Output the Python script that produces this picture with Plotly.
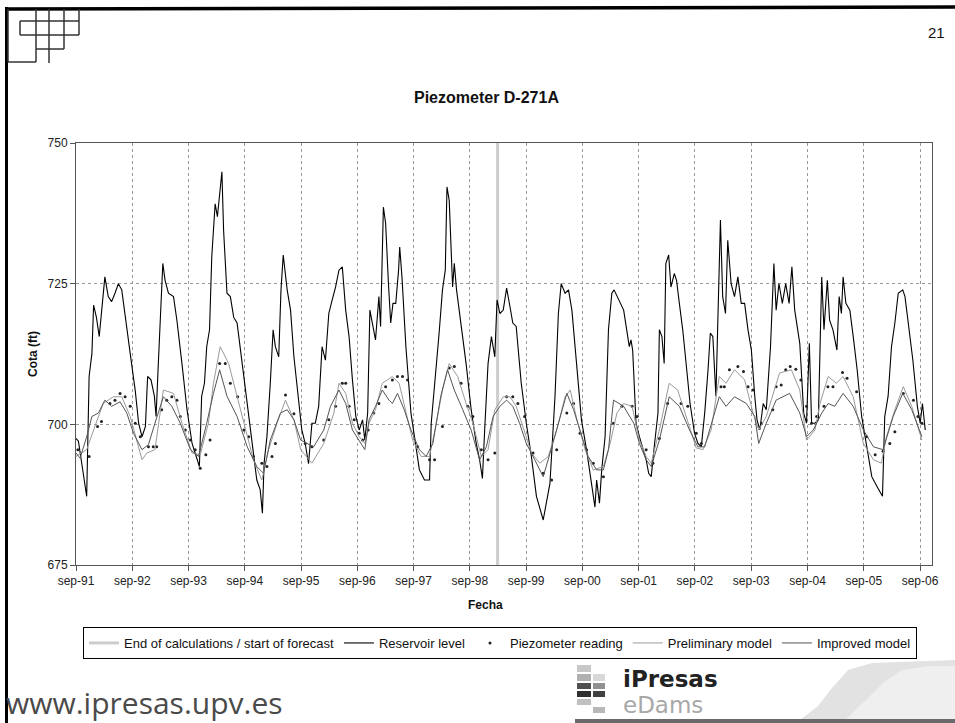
import plotly.graph_objects as go

# ---------------- data (decimal years) ----------------
res_t = [1991.667, 1991.71, 1991.77, 1991.857, 1991.90, 1991.95, 1991.98, 1992.03, 1992.08, 1992.12,
         1992.18, 1992.24, 1992.30, 1992.36, 1992.42, 1992.48, 1992.54, 1992.63, 1992.72, 1992.78,
         1992.84, 1992.90, 1992.94, 1993.00, 1993.06, 1993.09, 1993.13, 1993.16, 1993.21, 1993.25,
         1993.31, 1993.40, 1993.46, 1993.55, 1993.64, 1993.73, 1993.81, 1993.86, 1993.90, 1993.95,
         1993.99, 1994.04, 1994.08, 1994.11, 1994.14, 1994.18, 1994.22, 1994.26, 1994.29, 1994.35,
         1994.41, 1994.47, 1994.53, 1994.62, 1994.71, 1994.79, 1994.88, 1994.94, 1994.98, 1995.01,
         1995.06, 1995.12, 1995.17, 1995.21, 1995.27, 1995.31, 1995.35, 1995.42, 1995.48, 1995.54,
         1995.62, 1995.68, 1995.74, 1995.80, 1995.86, 1995.92, 1995.98, 1996.04, 1996.10, 1996.16,
         1996.22, 1996.28, 1996.34, 1996.40,
         1996.46, 1996.52, 1996.58, 1996.64, 1996.70, 1996.76, 1996.80, 1996.85, 1996.89, 1996.935,
         1996.99, 1997.05, 1997.08, 1997.13, 1997.17, 1997.22, 1997.26, 1997.30, 1997.35, 1997.40,
         1997.42, 1997.46, 1997.53, 1997.62, 1997.71, 1997.77, 1997.86, 1997.95, 1997.98, 1998.07,
         1998.12, 1998.18, 1998.23, 1998.26, 1998.30, 1998.36, 1998.39, 1998.43, 1998.51, 1998.60,
         1998.69, 1998.78, 1998.84, 1998.89, 1998.93, 1998.99, 1999.05, 1999.11, 1999.15, 1999.20,
         1999.26, 1999.32, 1999.38, 1999.43, 1999.49, 1999.58, 1999.67, 1999.76, 1999.85, 1999.97,
         2000.09, 2000.18, 2000.24, 2000.29, 2000.36, 2000.42, 2000.48, 2000.57, 2000.65, 2000.74,
         2000.83, 2000.89, 2000.92, 2000.97, 2001.01, 2001.07, 2001.13, 2001.19, 2001.23, 2001.31,
         2001.40,
         2001.50, 2001.53, 2001.56, 2001.62, 2001.68, 2001.74, 2001.80, 2001.845, 2001.89, 2001.95,
         2002.01, 2002.035, 2002.08, 2002.12, 2002.15, 2002.20, 2002.24, 2002.30, 2002.34, 2002.39,
         2002.45, 2002.51, 2002.58, 2002.66, 2002.72, 2002.78, 2002.84, 2002.90, 2002.94, 2002.985,
         2003.04, 2003.07, 2003.12, 2003.16, 2003.21, 2003.25, 2003.31, 2003.37, 2003.43, 2003.49,
         2003.55, 2003.61, 2003.67, 2003.73, 2003.77, 2003.82, 2003.88, 2003.935, 2004.01, 2004.07,
         2004.11, 2004.16, 2004.22, 2004.28, 2004.34, 2004.39, 2004.44, 2004.53, 2004.60, 2004.65,
         2004.70, 2004.74, 2004.80, 2004.86, 2004.92, 2004.96, 2005.02, 2005.06, 2005.12, 2005.19,
         2005.23, 2005.27, 2005.30, 2005.35, 2005.42, 2005.48, 2005.55, 2005.63, 2005.72, 2005.81,
         2005.90, 2005.95, 2006.00, 2006.04, 2006.10, 2006.16, 2006.22, 2006.28, 2006.36, 2006.40,
         2006.46, 2006.54, 2006.62, 2006.67, 2006.71, 2006.76]
res_v = [697.5, 697.0, 693.0, 687.2, 708.5, 712.6, 721.2, 719.0, 715.6, 720.3,
         726.2, 722.7, 721.8, 723.3, 725.0, 723.9, 719.0, 712.6, 706.0, 700.2,
         697.8, 699.6, 708.5, 707.9, 705.0, 701.4, 710.8, 718.0, 728.6, 725.6,
         723.3, 722.7, 718.5, 710.8, 702.6, 696.6, 694.3, 692.5, 705.0, 707.3,
         713.8, 716.8, 729.8, 735.0, 739.2, 736.9, 740.4, 744.9, 734.5, 723.3,
         722.7, 719.0, 718.0, 710.8, 703.7, 697.8, 690.1, 688.4, 684.2, 693.1,
         697.8, 707.3, 716.8, 713.8, 712.0, 723.9, 730.1, 723.9, 720.3, 712.0,
         704.3, 699.0, 696.6, 693.0, 700.2, 700.2, 703.2, 713.8, 711.4, 719.7,
         722.1, 724.4, 727.4, 728.0,
         720.3, 715.6, 707.9, 701.4, 699.0, 700.8, 697.2, 702.0, 720.3, 718.0,
         715.0, 722.7, 717.4, 738.6, 735.7, 725.0, 718.0, 721.5, 721.5, 727.4,
         731.5, 726.2, 713.8, 702.0, 696.0, 691.9, 690.1, 690.1, 700.2, 709.7,
         716.2, 723.9, 727.4, 742.2, 739.8, 724.4, 728.6, 723.9, 718.0, 710.8,
         702.6, 696.6, 693.7, 690.4, 699.0, 710.8, 715.6, 712.0, 722.1, 719.7,
         720.3, 724.2, 720.9, 718.0, 717.4, 707.3, 700.2, 694.3, 687.2, 683.0,
         689.5, 705.0, 719.7, 725.0, 723.3, 723.9, 720.3, 709.7, 700.8, 695.5,
         689.5, 685.3, 690.1, 686.0, 691.9, 697.8, 716.8, 723.3, 723.9, 722.1,
         720.3,
         713.8, 715.0, 713.2, 700.2, 697.8, 695.5, 693.7, 691.3, 690.7, 696.6,
         702.0, 716.8, 715.6, 710.8, 728.6, 730.1, 724.4, 726.8, 725.6, 721.5,
         716.8, 710.8, 703.7, 698.4, 696.6, 696.0, 702.0, 709.7, 716.2, 715.6,
         705.0, 716.8, 736.3, 722.7, 719.7, 732.7, 725.0, 722.7, 726.2, 721.5,
         721.5, 716.8, 713.2, 705.0, 700.8, 699.0, 703.7, 702.6, 713.8, 728.6,
         720.3, 725.0, 721.5, 725.0, 721.5, 728.0, 720.3, 714.4, 702.0, 700.2,
         714.4, 700.2, 700.2, 700.8, 726.2, 716.8, 725.6, 718.5, 716.8, 713.2,
         722.7, 719.7, 726.2, 721.5, 720.3, 715.6, 709.7, 701.4, 696.0, 690.7,
         689.0, 688.1, 687.2, 701.4, 705.0, 713.8, 718.0, 723.3, 723.9, 722.7,
         718.0, 711.4, 703.2, 700.2, 703.7, 699.0]

obs_t = [1991.70, 1991.90, 1992.05, 1992.12, 1992.27, 1992.36, 1992.45, 1992.54, 1992.63, 1992.72,
         1992.81, 1992.955, 1993.04, 1993.10, 1993.19, 1993.28, 1993.37, 1993.46, 1993.52, 1993.61,
         1993.70, 1993.785, 1993.875, 1993.975, 1994.05, 1994.22, 1994.32, 1994.41, 1994.54, 1994.65,
         1994.735, 1994.82, 1994.97, 1995.06, 1995.15, 1995.21, 1995.39, 1995.54, 1995.74, 1995.86,
         1996.07, 1996.16, 1996.28, 1996.40,
         1996.46, 1996.52, 1996.61, 1996.70, 1996.76, 1996.86, 1996.96, 1997.05, 1997.17, 1997.29,
         1997.38, 1997.47, 1997.56, 1997.74, 1997.95, 1998.04, 1998.18, 1998.30, 1998.39, 1998.51,
         1998.63, 1998.72, 1998.87, 1998.99, 1999.11, 1999.32, 1999.43, 1999.52, 1999.64, 1999.79,
         1999.97, 2000.12, 2000.21, 2000.39, 2000.51, 2000.625, 2000.74, 2000.86, 2001.04, 2001.22,
         2001.37, 2001.55, 2001.64,
         2001.80, 2001.92, 2002.035, 2002.18, 2002.42, 2002.54, 2002.69, 2002.78, 2003.13, 2003.19,
         2003.28, 2003.43, 2003.53, 2003.61, 2003.70, 2003.85, 2004.05, 2004.11, 2004.20, 2004.28,
         2004.36, 2004.46, 2004.55, 2004.65, 2004.74, 2004.83, 2004.96, 2005.03, 2005.12, 2005.29,
         2005.37, 2005.54, 2005.72, 2005.87, 2006.01, 2006.13, 2006.22, 2006.37, 2006.55, 2006.63,
         2006.70]
obs_v = [695.5, 694.3, 699.6, 700.5, 703.7, 704.3, 705.5, 704.9, 703.2, 700.2,
         697.8, 696.0, 696.0, 696.0, 702.6, 704.3, 704.9, 704.3, 701.4, 699.0,
         697.2, 695.5, 692.2, 694.6, 697.2, 710.8, 710.8, 707.3, 704.9, 699.0,
         697.8, 694.3, 693.1, 692.5, 694.3, 696.6, 705.2, 701.9, 696.6, 696.0,
         697.2, 700.8, 703.2, 707.3,
         707.3, 703.2, 700.8, 698.4, 697.2, 699.0, 702.0, 703.7, 706.7, 707.9,
         708.5, 708.5, 707.9, 696.0, 693.7, 693.7, 699.6, 710.0, 710.3, 707.3,
         703.2, 701.4, 695.5, 693.7, 694.9, 704.9, 704.9, 703.7, 701.4, 694.9,
         691.3, 690.1, 695.5, 702.0, 703.7, 698.4, 695.5, 693.1, 690.7, 700.2,
         703.2, 703.2, 701.4,
         695.5, 693.1, 697.5, 703.7, 703.7, 703.2, 698.4, 696.6, 706.7, 706.7,
         709.7, 710.3, 709.4, 706.7, 706.1, 700.2, 702.6, 706.7, 707.0, 709.7,
         710.3, 709.8, 707.9, 703.2, 700.2, 701.4, 703.2, 706.7, 706.7, 709.2,
         708.2, 705.8, 697.8, 694.6, 695.2, 696.6, 698.7, 705.5, 704.3, 701.4,
         700.2]

pre_t = [1991.667, 1991.857, 1991.98, 1992.15, 1992.33, 1992.48, 1992.63, 1992.84, 1992.925, 1993.07,
         1993.22, 1993.40, 1993.55, 1993.73, 1993.875, 1994.02, 1994.11, 1994.23, 1994.38, 1994.53,
         1994.68, 1994.82, 1994.97, 1995.09, 1995.24, 1995.39, 1995.54, 1995.66, 1995.86, 1996.07,
         1996.25,
         1996.34, 1996.46, 1996.58, 1996.70, 1996.80, 1996.875, 1996.99, 1997.11, 1997.29, 1997.41,
         1997.53, 1997.65, 1997.80, 1997.95, 1998.07, 1998.18, 1998.30, 1998.45, 1998.60, 1998.72,
         1998.87, 1998.99, 1999.11, 1999.26, 1999.38, 1999.49, 1999.61, 1999.76, 1999.91, 2000.06,
         2000.21, 2000.36, 2000.45, 2000.57, 2000.715, 2000.86, 2001.04, 2001.16, 2001.28, 2001.40,
         2001.55,
         2001.68, 2001.80, 2001.89, 2002.035, 2002.21, 2002.36, 2002.51, 2002.69, 2002.81, 2002.955,
         2003.10, 2003.22, 2003.37, 2003.55, 2003.70, 2003.80, 2003.935, 2004.17, 2004.38, 2004.53,
         2004.65, 2004.80, 2004.89, 2005.035, 2005.18, 2005.30, 2005.48, 2005.66, 2005.84, 2005.98,
         2006.07, 2006.22, 2006.37, 2006.52, 2006.70]
pre_v = [694.3, 695.5, 699.0, 703.7, 704.9, 704.9, 701.4, 693.7, 694.9, 695.5,
         706.1, 705.5, 700.2, 694.9, 694.6, 700.2, 707.3, 713.8, 710.8, 705.0,
         699.0, 693.7, 690.1, 695.5, 700.2, 704.3, 700.8, 695.5, 693.1, 696.6,
         702.0,
         707.3, 705.5, 700.2, 697.8, 696.6, 700.2, 702.6, 707.3, 708.5, 707.3,
         702.0, 697.2, 694.3, 694.3, 700.2, 706.1, 710.8, 708.5, 703.7, 700.2,
         694.3, 695.5, 702.6, 704.9, 704.9, 703.2, 699.6, 694.9, 693.1, 694.3,
         699.0, 704.9, 706.1, 700.8, 695.5, 691.9, 692.5, 696.6, 702.0, 703.7,
         703.2,
         697.2, 694.3, 693.1, 699.0, 707.3, 706.1, 701.4, 695.8, 695.5, 699.0,
         708.5, 707.3, 709.7, 707.9, 702.0, 699.0, 701.4, 709.1, 709.7, 706.1,
         697.2, 699.0, 703.7, 708.5, 707.3, 708.5, 704.9, 696.6, 693.7, 693.1,
         697.8, 702.6, 706.7, 703.2, 697.2]

imp_t = [1991.667, 1991.74, 1991.857, 1991.95, 1992.065, 1992.18, 1992.30, 1992.45, 1992.57, 1992.69,
         1992.84, 1992.955, 1993.07, 1993.22, 1993.37, 1993.52, 1993.70, 1993.845, 1993.99, 1994.11,
         1994.22, 1994.35, 1994.53, 1994.71, 1994.88, 1995.00, 1995.12, 1995.30, 1995.42, 1995.54,
         1995.66, 1995.89, 1996.07, 1996.19,
         1996.34, 1996.46, 1996.58, 1996.70, 1996.80, 1996.875, 1996.99, 1997.11, 1997.23, 1997.29,
         1997.38, 1997.50, 1997.62, 1997.77, 1997.89, 1998.01, 1998.15, 1998.27, 1998.39, 1998.54,
         1998.69, 1998.84, 1998.96, 1999.08, 1999.20, 1999.32, 1999.43, 1999.55, 1999.67, 1999.82,
         1999.97, 2000.11, 2000.24, 2000.39, 2000.51, 2000.625, 2000.77, 2000.92, 2001.04, 2001.13,
         2001.22, 2001.40, 2001.58,
         2001.68, 2001.80, 2001.89, 2002.035, 2002.21, 2002.39, 2002.57, 2002.72, 2002.84, 2002.985,
         2003.10, 2003.22, 2003.37, 2003.58, 2003.73, 2003.80, 2003.935, 2004.11, 2004.35, 2004.53,
         2004.65, 2004.77, 2004.92, 2005.035, 2005.15, 2005.30, 2005.48, 2005.66, 2005.84, 2006.01,
         2006.19, 2006.36, 2006.52, 2006.70]
imp_v = [694.9, 694.0, 697.8, 701.4, 702.0, 704.3, 703.2, 704.0, 702.0, 698.4,
         695.5, 696.4, 700.2, 704.9, 703.2, 700.2, 695.5, 694.3, 700.2, 705.5,
         709.7, 705.0, 701.4, 696.0, 692.5, 691.3, 697.2, 702.0, 702.6, 700.8,
         697.2, 696.0, 699.0, 703.2,
         706.1, 703.7, 699.0, 697.2, 695.5, 700.8, 703.2, 706.1, 704.3, 703.7,
         705.5, 702.6, 699.0, 695.5, 694.3, 696.6, 705.0, 709.7, 706.1, 702.6,
         699.0, 693.7, 696.0, 701.4, 703.2, 704.3, 703.2, 700.2, 696.6, 693.7,
         690.7, 695.5, 700.2, 705.5, 702.6, 699.0, 694.3, 691.9, 691.9, 695.5,
         704.3, 703.2, 700.2,
         696.6, 693.7, 692.5, 697.2, 704.9, 703.2, 699.0, 696.0, 696.0, 700.8,
         704.9, 703.2, 704.9, 703.7, 701.4, 696.6, 700.2, 704.3, 705.5, 702.0,
         697.8, 699.0, 702.0, 703.7, 703.2, 705.5, 703.2, 699.0, 696.0, 695.5,
         701.4, 705.5, 702.6, 697.8]

forecast_t = 1999.16
tick_pos = [1991.667, 1992.667, 1993.667, 1994.667, 1995.667, 1996.667, 1997.667, 1998.667,
            1999.667, 2000.667, 2001.667, 2002.667, 2003.667, 2004.667, 2005.667, 2006.667]
tick_labels = ["sep-91", "sep-92", "sep-93", "sep-94", "sep-95", "sep-96", "sep-97", "sep-98",
               "sep-99", "sep-00", "sep-01", "sep-02", "sep-03", "sep-04", "sep-05", "sep-06"]
y_ticks = [675, 700, 725, 750]

# ---------------- layout geometry (pixels) ----------------
W, H = 955, 723
L, R, T, B = 76, 932, 143, 565


def px(x):
    return (x - L) / (R - L)


def py(y):
    return (B - y) / (B - T)


def path(points, close=True):
    s = "M " + " L ".join(f"{px(x):.5f},{py(y):.5f}" for x, y in points)
    return s + (" Z" if close else "")


FONT = "Liberation Sans, Arial, sans-serif"

fig = go.Figure()
fig.add_trace(go.Scatter(x=[forecast_t, forecast_t], y=[y_ticks[0], y_ticks[-1]], mode="lines",
                         line=dict(color="#cdcdcd", width=3),
                         name="End of calculations / start of forecast"))
fig.add_trace(go.Scatter(x=res_t, y=res_v, mode="lines", line=dict(color="#000000", width=1.1),
                         name="Reservoir level"))
fig.add_trace(go.Scatter(x=obs_t, y=obs_v, mode="markers",
                         marker=dict(color="#222222", size=3), name="Piezometer reading"))
fig.add_trace(go.Scatter(x=pre_t, y=pre_v, mode="lines", line=dict(color="#9a9a9a", width=1),
                         name="Preliminary model"))
fig.add_trace(go.Scatter(x=imp_t, y=imp_v, mode="lines", line=dict(color="#555555", width=1),
                         name="Improved model"))

axis_common = dict(showline=True, linecolor="#555555", linewidth=1, mirror=True,
                   ticks="outside", ticklen=5, tickcolor="#555555",
                   showgrid=True, gridcolor="#9a9a9a", gridwidth=1, griddash="3px,3px",
                   zeroline=False, tickfont=dict(family=FONT, size=12, color="#222222"))

fig.update_xaxes(range=[1991.667, 2006.88], tickvals=tick_pos, ticktext=tick_labels, **axis_common)
fig.update_yaxes(range=[675, 750], tickvals=y_ticks, **axis_common)

shapes = []
# slide frame
shapes.append(dict(type="line", xref="paper", yref="paper", x0=px(5), y0=py(9), x1=px(955), y1=py(7),
                   line=dict(color="black", width=3.5)))
shapes.append(dict(type="line", xref="paper", yref="paper", x0=px(6.5), y0=py(7), x1=px(6.5), y1=py(723),
                   line=dict(color="black", width=3)))
# top-left logo
logo_lines = [
    ((8, 9), (8, 62)), ((8, 62), (36, 62)),
    ((36, 9), (36, 62)), ((49, 9), (49, 63)), ((64, 9), (64, 49)), ((79, 9), (79, 35)),
    ((20, 21), (79, 21)), ((20, 35), (79, 35)), ((36, 49), (64, 49)), ((20, 21), (20, 35)),
]
for (x0, y0), (x1, y1) in logo_lines:
    shapes.append(dict(type="line", xref="paper", yref="paper", x0=px(x0), y0=py(y0), x1=px(x1), y1=py(y1),
                       line=dict(color="#333333", width=1.5)))
# bottom-right logo squares
squares = [
    (577, 665, 591, 672, "#c8c8c8"),
    (577, 674, 591, 681, "#b0b0b0"), (593, 674, 605, 681, "#d8d8d8"),
    (577, 683, 591, 689, "#505050"), (593, 683, 605, 689, "#909090"),
    (577, 691, 591, 697, "#303030"), (593, 691, 605, 697, "#404040"),
    (577, 699, 591, 705, "#c0c0c0"),
    (593, 707, 605, 713, "#b8b8b8"),
]
for x0, y0, x1, y1, c in squares:
    shapes.append(dict(type="rect", xref="paper", yref="paper", x0=px(x0), y0=py(y0), x1=px(x1), y1=py(y1),
                       fillcolor=c, line=dict(width=0)))
# swoosh
shapes.append(dict(type="path", xref="paper", yref="paper",
                   path=path([(800, 720), (818, 706), (832, 688), (848, 670), (872, 663), (955, 660), (955, 720)]),
                   fillcolor="#e2e2e2", line=dict(width=0)))
shapes.append(dict(type="path", xref="paper", yref="paper",
                   path=path([(845, 720), (866, 700), (884, 682), (902, 670), (930, 666), (955, 666), (955, 720)]),
                   fillcolor="#efefef", line=dict(width=0)))
shapes.append(dict(type="rect", xref="paper", yref="paper", x0=px(575), y0=py(719), x1=px(955), y1=py(723),
                   fillcolor="#6a6a6a", line=dict(width=0)))

annotations = [
    dict(text="21", x=px(936), y=py(32), font=dict(family=FONT, size=15, color="#111111")),
    dict(text="<b>Piezometer D-271A</b>", x=px(486), y=py(97), font=dict(family=FONT, size=16, color="#111111")),
    dict(text="<b>Fecha</b>", x=px(485), y=py(605), font=dict(family=FONT, size=12, color="#111111")),
    dict(text="<b>Cota (ft)</b>", x=px(33), y=py(354), textangle=-90,
         font=dict(family=FONT, size=12, color="#111111")),
    dict(text="www.ipresas.upv.es", x=px(4), y=py(702), xanchor="left",
         font=dict(family="Open Sans", size=30, color="#4a4a4a")),
    dict(text="<b>iPresas</b>", x=px(621), y=py(679), xanchor="left",
         font=dict(family="DejaVu Sans", size=23, color="#222222")),
    dict(text="eDams", x=px(621), y=py(705), xanchor="left",
         font=dict(family="DejaVu Sans", size=23, color="#a8a8a8")),
]
for a in annotations:
    a.update(xref="paper", yref="paper", showarrow=False)
    a.setdefault("xanchor", "center")
    a.setdefault("yanchor", "middle")

fig.update_layout(
    width=W, height=H, autosize=False,
    margin=dict(l=L, r=W - R, t=T, b=H - B, pad=0),
    paper_bgcolor="white", plot_bgcolor="white",
    showlegend=True,
    legend=dict(orientation="h", x=px(83), y=py(627), xanchor="left", yanchor="top",
                bordercolor="#000000", borderwidth=1, bgcolor="white",
                font=dict(family=FONT, size=13, color="#111111"), itemwidth=30, tracegroupgap=0),
    shapes=shapes, annotations=annotations,
    font=dict(family=FONT),
)

fig.write_html("out.html")
